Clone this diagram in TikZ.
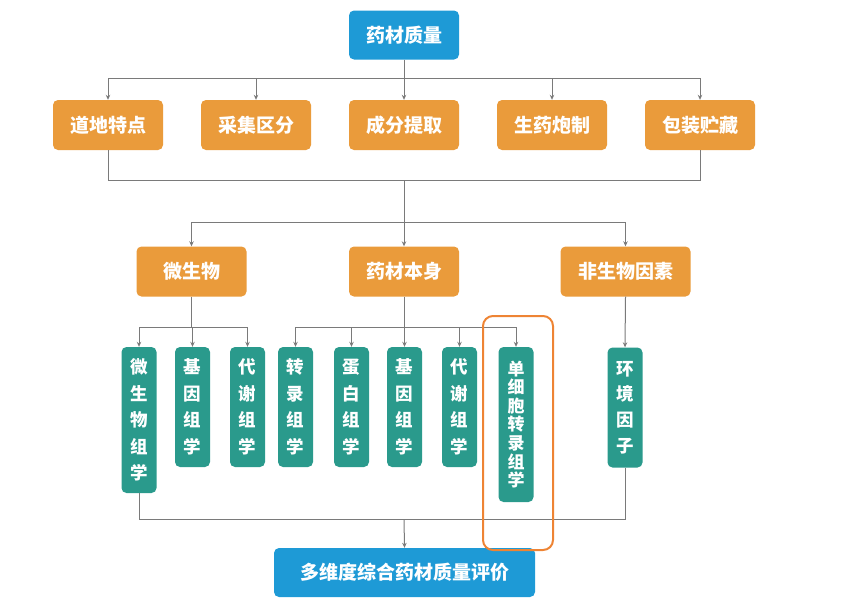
\documentclass[tikz,border=0pt]{standalone}
\usepackage{fontspec}
\newfontfamily\cjk{Noto Sans CJK SC}
\usetikzlibrary{arrows.meta}
\definecolor{bblue}{HTML}{1E9AD6}
\definecolor{borange}{HTML}{EA9B3B}
\definecolor{bteal}{HTML}{2A9A8C}
\definecolor{lgray}{HTML}{7A7A7A}
\definecolor{hilite}{HTML}{EE8434}
\tikzset{
  box/.style={rounded corners=5pt, text=white, font=\cjk\bfseries\fontsize{19}{19}\selectfont, inner sep=0pt, align=center},
  hbox/.style={box, fill=borange, minimum width=110pt, minimum height=50pt},
  vbox/.style={box, fill=bteal, minimum width=35pt, font=\cjk\bfseries\fontsize{17.5}{26.5}\selectfont},
  ln/.style={draw=lgray, line width=1pt},
  arr/.style={ln, -{Stealth[length=5pt,width=4.5pt]}},
}
\begin{document}
\begin{tikzpicture}[x=1pt,y=-1pt]
\useasboundingbox (0,0) rectangle (842,613);
\node[box, fill=bblue, minimum width=110pt, minimum height=49pt] (top) at (404,35) {药材质量};
\node[hbox] (r1) at (108,125) {道地特点};
\node[hbox] (r2) at (256,125) {采集区分};
\node[hbox] (r3) at (404,125) {成分提取};
\node[hbox] (r4) at (552,125) {生药炮制};
\node[hbox] (r5) at (700,125) {包装贮藏};
\node[hbox] (m1) at (191.5,271.5) {微生物};
\node[hbox] (m2) at (404,271.5) {药材本身};
\node[hbox, minimum width=130pt] (m3) at (625.5,271.5) {非生物因素};
\node[vbox, minimum height=146pt] (a1) at (139,420) {微\\生\\物\\组\\学};
\node[vbox, minimum height=120pt] (a2) at (192.5,407) {基\\因\\组\\学};
\node[vbox, minimum height=120pt] (a3) at (247.5,407) {代\\谢\\组\\学};
\node[vbox, minimum height=120pt] (b1) at (295.5,407) {转\\录\\组\\学};
\node[vbox, minimum height=120pt] (b2) at (351.5,407) {蛋\\白\\组\\学};
\node[vbox, minimum height=120pt] (b3) at (404.5,407) {基\\因\\组\\学};
\node[vbox, minimum height=120pt] (b4) at (459.5,407) {代\\谢\\组\\学};
\node[vbox, minimum height=155pt, font=\cjk\bfseries\fontsize{17}{18.6}\selectfont] (b5) at (516,424.5) {单\\细\\胞\\转\\录\\组\\学};
\node[vbox, minimum height=120pt, font=\cjk\bfseries\fontsize{17.5}{25.7}\selectfont] (c1) at (625,407.5) {环\\境\\因\\子};
\node[box, fill=bblue, minimum width=261pt, minimum height=49pt] (fin) at (404.5,572.5) {多维度综合药材质量评价};
% top to row 2
\coordinate (j1) at (404,78);
\draw[ln] (top.south) -- (j1);
\foreach \n in {r1,r2,r3,r4,r5} \draw[arr] (j1) -| (\n.north);
% row 2 to row 3
\coordinate (j2) at (404,180);
\coordinate (j3) at (404,222);
\foreach \n in {r1,r5} \draw[ln] (\n.south) |- (j2);
\draw[ln] (j2) -- (j3);
\foreach \n in {m1,m2,m3} \draw[arr] (j3) -| (\n.north);
% row 3 to row 4
\coordinate (k1) at (191.5,327);
\coordinate (k2) at (404,327);
\draw[ln] (m1.south) -- (k1);
\foreach \n in {a1,a2,a3} \draw[arr] (k1) -| (\n.north);
\draw[ln] (m2.south) -- (k2);
\foreach \n in {b1,b2,b3,b4,b5} \draw[arr] (k2) -| (\n.north);
\draw[arr] (m3.south) -- (c1.north);
% row 4 to final
\coordinate (j4) at (404,519);
\foreach \n in {a1,c1} \draw[ln] (\n.south) |- (j4);
\draw[arr] (j4) -- (fin.north);
% highlight
\draw[hilite, line width=2pt, rounded corners=10pt] (483,316) rectangle (553,550);
\end{tikzpicture}
\end{document}
